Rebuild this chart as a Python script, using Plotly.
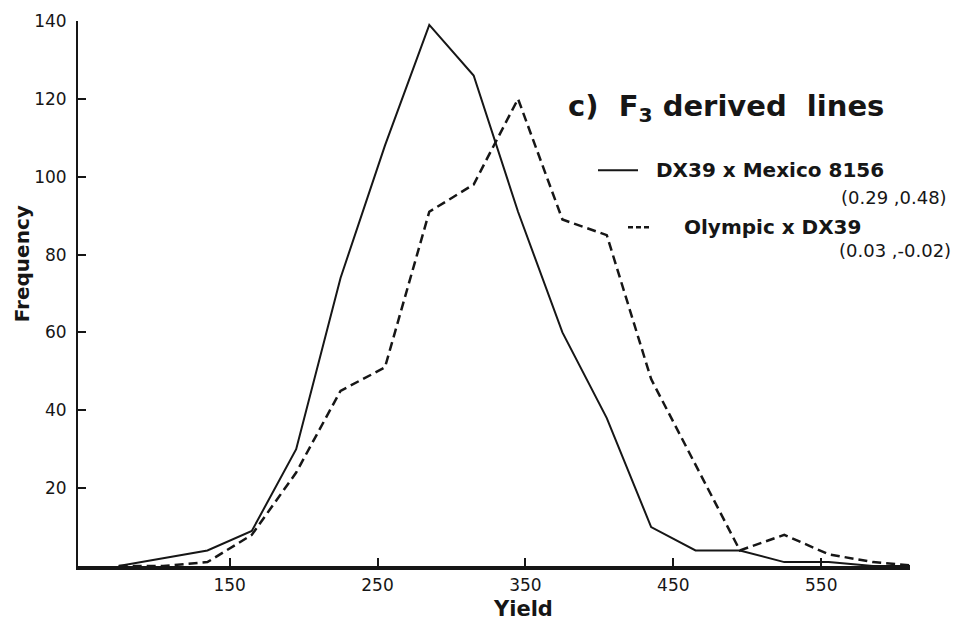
import plotly.graph_objects as go

# Data (yield class midpoints and frequencies)
yield_mid = [75, 105, 135, 165, 195, 225, 255, 285, 315, 345, 375, 405, 435, 465, 495, 525, 555, 585, 615]
freq_dx39_mexico = [0, 2, 4, 9, 30, 74, 108, 139, 126, 91, 60, 38, 10, 4, 4, 1, 1, 0, 0]
freq_olympic_dx39 = [0, 0, 1, 8, 24, 45, 51, 91, 98, 120, 89, 85, 48, 26, 4, 8, 3, 1, 0]

x_ticks = [150, 250, 350, 450, 550]
y_ticks = [20, 40, 60, 80, 100, 120, 140]

series1_name = "DX39 x Mexico 8156"
series1_note = "(0.29 ,0.48)"
series2_name = "Olympic x DX39"
series2_note = "(0.03 ,-0.02)"

W, H = 972, 622
L, R, T, B = 78, 62, 20.5, 56
PW, PH = W - L - R, H - T - B


def px(x):
    return (x - L) / PW


def py(y):
    return (H - B - y) / PH


INK = "#161616"
FONT = "DejaVu Sans"

fig = go.Figure()
fig.add_trace(go.Scatter(x=yield_mid, y=freq_dx39_mexico, mode="lines",
                         line=dict(color=INK, width=2), name=series1_name))
fig.add_trace(go.Scatter(x=yield_mid, y=freq_olympic_dx39, mode="lines",
                         line=dict(color=INK, width=2.5, dash="9px,5px"), name=series2_name))

fig.update_layout(
    width=W, height=H,
    margin=dict(l=L, r=R, t=T, b=B),
    paper_bgcolor="white", plot_bgcolor="white",
    showlegend=False,
    font=dict(family=FONT, color=INK, size=17),
    xaxis=dict(range=[47.5, 610], showgrid=False, zeroline=False, showline=True,
               linecolor=INK, linewidth=3.5, ticks="inside", ticklen=8, tickwidth=1.5,
               tickcolor=INK, tickvals=x_ticks, tickfont=dict(size=17, family=FONT),
               ticklabelstandoff=1),
    yaxis=dict(range=[0, 140], showgrid=False, zeroline=False, showline=True,
               linecolor=INK, linewidth=2, ticks="inside", ticklen=8, tickwidth=1.5,
               tickcolor=INK, tickvals=y_ticks, tickfont=dict(size=17, family=FONT),
               ticklabelstandoff=6),
)

ann = []
ann.append(dict(text="<b>Frequency</b>", x=px(22), y=py(264), textangle=-90,
                font=dict(size=20, family=FONT)))
ann.append(dict(text="<b>Yield</b>", x=px(523), y=py(609), font=dict(size=21, family=FONT)))
ann.append(dict(text="<b>c)  F<sub>3</sub> derived  lines</b>", x=px(566), y=py(108),
                xanchor="left", font=dict(size=29, family=FONT)))
ann.append(dict(text="<b>" + series1_name + "</b>", x=px(654), y=py(170), xanchor="left",
                font=dict(size=20, family=FONT)))
ann.append(dict(text=series1_note, x=px(949), y=py(197), xanchor="right",
                font=dict(size=18, family=FONT)))
ann.append(dict(text="<b>" + series2_name + "</b>", x=px(682), y=py(227), xanchor="left",
                font=dict(size=20, family=FONT)))
ann.append(dict(text=series2_note, x=px(953), y=py(250), xanchor="right",
                font=dict(size=18, family=FONT)))
for a in ann:
    a.update(xref="paper", yref="paper", showarrow=False)
    a.setdefault("xanchor", "center")
    a.setdefault("yanchor", "middle")
fig.update_layout(annotations=ann)

fig.add_shape(type="line", xref="paper", yref="paper", x0=px(598), x1=px(638),
              y0=py(170), y1=py(170), line=dict(color=INK, width=2))
fig.add_shape(type="line", xref="paper", yref="paper", x0=px(628), x1=px(652),
              y0=py(227), y1=py(227), line=dict(color=INK, width=2.5, dash="5px,3px"))

fig.write_html("out.html")
